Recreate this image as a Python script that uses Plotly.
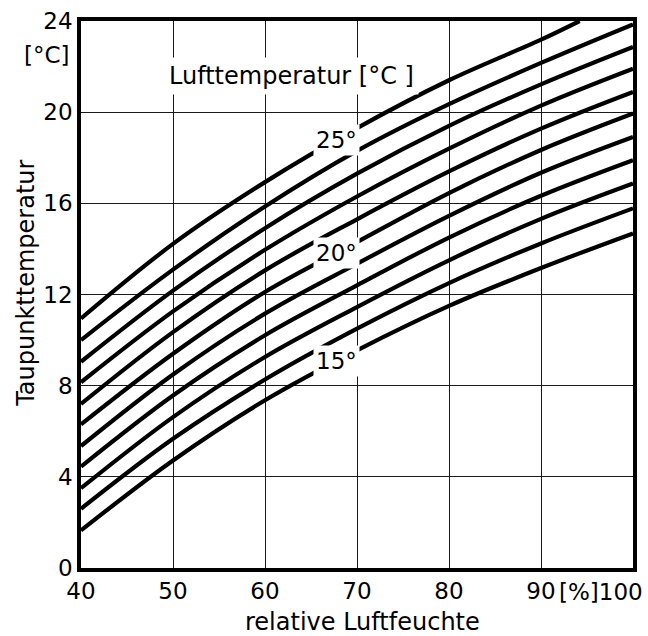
import numpy as np
import plotly.graph_objects as go

# Relative humidity [%] at which the dew point curves are tabulated
rel_humidity = [40, 50, 60, 70, 80, 90, 100]

# Dew point temperature [°C] for each air temperature curve
dew_15 = [1.65, 4.72, 7.36, 9.55, 11.5, 13.16, 14.68]
dew_16 = [2.60, 5.67, 8.27, 10.50, 12.5, 14.24, 15.78]
dew_17 = [3.50, 6.62, 9.26, 11.45, 13.5, 15.32, 16.87]
dew_18 = [4.45, 7.57, 10.21, 12.40, 14.5, 16.33, 17.89]
dew_19 = [5.35, 8.49, 11.16, 13.35, 15.45, 17.34, 18.91]
dew_20 = [6.30, 9.40, 12.11, 14.30, 16.45, 18.34, 19.94]
dew_21 = [7.20, 10.35, 13.06, 15.30, 17.40, 19.28, 20.89]
dew_22 = [8.15, 11.26, 13.96, 16.30, 18.40, 20.29, 21.91]
dew_23 = [9.05, 12.17, 14.91, 17.30, 19.40, 21.22, 22.86]
dew_24 = [10.00, 13.09, 15.86, 18.30, 20.35, 22.16, 23.85]
# the 25 °C curve leaves the chart at the top edge
rel_humidity_25 = [40, 50, 60, 70, 80, 90, 94.2]
dew_25 = [10.95, 14.22, 16.93, 19.30, 21.40, 23.18, 24.0]

air_temps = [15, 16, 17, 18, 19, 20, 21, 22, 23, 24, 25]
curves = {
    15: (rel_humidity, dew_15), 16: (rel_humidity, dew_16),
    17: (rel_humidity, dew_17), 18: (rel_humidity, dew_18),
    19: (rel_humidity, dew_19), 20: (rel_humidity, dew_20),
    21: (rel_humidity, dew_21), 22: (rel_humidity, dew_22),
    23: (rel_humidity, dew_23), 24: (rel_humidity, dew_24),
    25: (rel_humidity_25, dew_25),
}
labelled_temps = [15, 20, 25]

# the last tick label is set together with its unit, right-aligned at the edge
x_ticks = [40, 50, 60, 70, 80, 90, 100]
x_ticktext = ["40", "50", "60", "70", "80", "90", ""]
x_last_label = "[%]100"
y_ticks = [0, 4, 8, 12, 16, 20, 24]
y_ticktext = ["0", "4", "8", "12", "16", "20", "24"]

FONT = "DejaVu Sans"
fig = go.Figure()

for t in air_temps:
    xs, ys = curves[t]
    fig.add_trace(go.Scatter(
        x=xs, y=ys, mode="lines",
        line=dict(color="black", width=4.2, shape="spline", smoothing=1.0),
        hoverinfo="skip", showlegend=False,
    ))

# curve labels sit in a white gap cut into their curve
label_x = 67.8
for t in labelled_temps:
    xs, ys = curves[t]
    fig.add_annotation(
        x=label_x, y=float(np.interp(label_x, xs, ys)), text=f"{t}°",
        showarrow=False, bgcolor="white", borderpad=2,
        font=dict(family=FONT, size=23, color="black"),
        xanchor="center", yanchor="middle",
    )

fig.add_annotation(
    x=62.9, y=21.6, text="Lufttemperatur [°C ]", showarrow=False,
    bgcolor="white", borderpad=4,
    font=dict(family=FONT, size=24, color="black"),
)

axis_common = dict(
    showgrid=True, gridcolor="#1a1a1a", gridwidth=1.3,
    showline=True, linecolor="black", linewidth=3.5, mirror=True,
    zeroline=False, ticks="", automargin=False,
    tickfont=dict(family=FONT, size=23, color="black"),
)

fig.update_layout(
    width=648, height=636,
    margin=dict(l=81, r=15, t=21, b=68, autoexpand=False),
    paper_bgcolor="white", plot_bgcolor="white",
    xaxis=dict(range=[40, 100], tickmode="array", tickvals=x_ticks,
               ticktext=x_ticktext, **axis_common),
    yaxis=dict(range=[0, 24], tickmode="array", tickvals=y_ticks,
               ticktext=y_ticktext, **axis_common),
    annotations=list(fig.layout.annotations) + [
        dict(xref="paper", yref="paper", x=-0.016, y=0.937, text="[°C]",
             showarrow=False, xanchor="right", yanchor="middle",
             font=dict(family=FONT, size=23, color="black")),
        dict(xref="paper", yref="paper", x=1.0217, y=-0.043,
             text=x_last_label, showarrow=False,
             xanchor="right", yanchor="middle",
             font=dict(family=FONT, size=23, color="black")),
        dict(xref="paper", yref="paper", x=-0.1, y=0.521,
             text="Taupunkttemperatur", textangle=-90, showarrow=False,
             xanchor="center", yanchor="middle",
             font=dict(family=FONT, size=24, color="black")),
        dict(xref="paper", yref="paper", x=0.51, y=-0.098,
             text="relative Luftfeuchte", showarrow=False,
             xanchor="center", yanchor="middle",
             font=dict(family=FONT, size=24, color="black")),
    ],
)

fig.write_html("out.html")
